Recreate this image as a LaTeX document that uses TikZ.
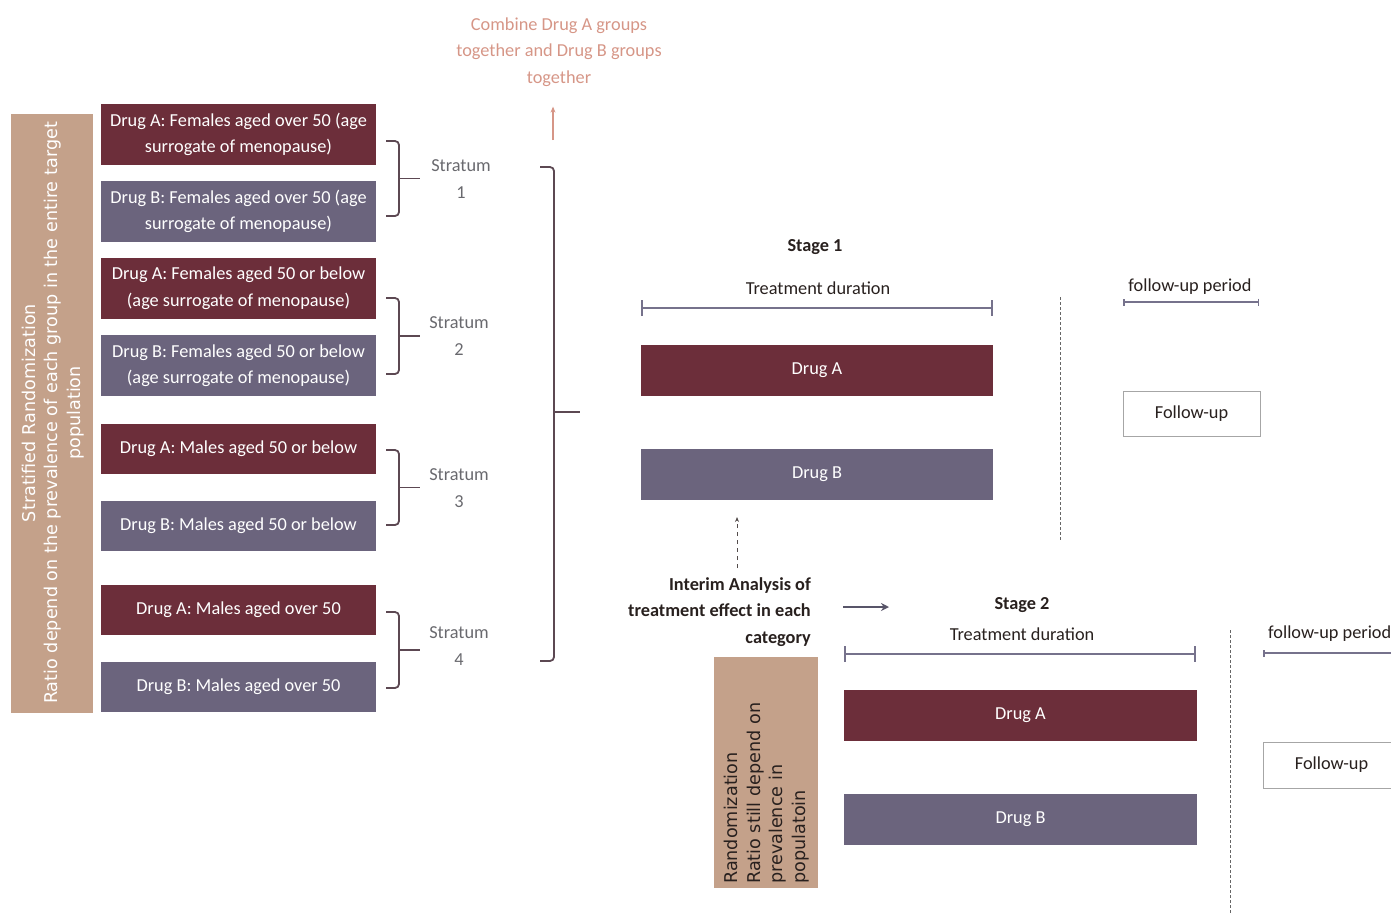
\documentclass[tikz,border=0pt]{standalone}
\usepackage{fontspec}
\setmainfont{Carlito}
\newfontfamily\vertfont{DejaVu Sans}
\usetikzlibrary{arrows.meta}
\definecolor{drugared}{RGB}{108,46,58}
\definecolor{drugbgrey}{RGB}{107,100,125}
\definecolor{tanbar}{RGB}{196,161,138}
\definecolor{salmon}{RGB}{214,150,135}
\definecolor{barline}{RGB}{118,114,140}
\definecolor{bracecol}{RGB}{92,72,82}
\definecolor{stratgrey}{RGB}{105,105,110}
\definecolor{darktext}{RGB}{40,32,30}
\def\stratbrace(#1:#2){\draw[bracket] (386,#1) -- (399,#1) -- (399,#2) -- (386,#2); \draw[bracket] (399,{(#1+#2)/2}) -- (420,{(#1+#2)/2});}
\tikzset{
	txt/.style={font=\fontsize{18.3}{26.5}\selectfont, align=center, inner sep=0pt, text=darktext},
	vtxt/.style={font={\vertfont\fontsize{17.6}{22.5}\selectfont}, align=center, inner sep=0pt},
	drugbox/.style={txt, text=white, minimum width=275pt, minimum height=50pt},
	drugA/.style={drugbox, fill=drugared},
	drugB/.style={drugbox, fill=drugbgrey},
	fubox/.style={txt, draw=gray!70, line width=1pt, fill=white, minimum width=137pt, minimum height=45pt},
	strat/.style={txt, text=stratgrey},
	bracket/.style={bracecol, line width=1.8pt, rounded corners=4pt},
	durbar/.style={barline, line width=2pt, {Bar[width=16pt]}-{Bar[width=16pt]}},
	fubar/.style={barline, line width=1.5pt, {Bar[width=7pt]}-{Bar[width=7pt]}},
	divider/.style={gray!80!black, line width=1pt, dash pattern=on 2.5pt off 2.5pt}
}
\begin{document}
\begin{tikzpicture}[x=1pt,y=-1pt]
			%%%%% START %%%%%
			\useasboundingbox (0,0) rectangle (1391,913);
			\clip (0,0) rectangle (1391,913);
			
			\fill[tanbar] (11,114) rectangle (93,713);
			\node[vtxt, text=white, rotate=90] (stratrand) at (53,413) {Stratified Randomization\\Ratio depend on the prevalence of each group in the entire target\\population};
			
			\node[drugA, minimum height=61pt] (a1) at (238.5,134.5) {Drug A: Females aged over 50 (age\\surrogate of menopause)};
			\node[drugB, minimum height=61pt] (b1) at (238.5,211.5) {Drug B: Females aged over 50 (age\\surrogate of menopause)};
			\node[drugA, minimum height=61pt] (a2) at (238.5,288) {Drug A: Females aged 50 or below\\(age surrogate of menopause)};
			\node[drugB, minimum height=61pt] (b2) at (238.5,365.5) {Drug B: Females aged 50 or below\\(age surrogate of menopause)};
			\node[drugA] (a3) at (238.5,449) {Drug A: Males aged 50 or below};
			\node[drugB] (b3) at (238.5,526) {Drug B: Males aged 50 or below};
			\node[drugA] (a4) at (238.5,610) {Drug A: Males aged over 50};
			\node[drugB] (b4) at (238.5,687) {Drug B: Males aged over 50};
			
			\stratbrace(141:216)
			\stratbrace(298:374)
			\stratbrace(450:525)
			\stratbrace(612:688)
			\node[strat] (s1) at (461,179) {Stratum\\1};
			\node[strat] (s2) at (459,336) {Stratum\\2};
			\node[strat] (s3) at (459,488) {Stratum\\3};
			\node[strat] (s4) at (459,646) {Stratum\\4};
			
			\draw[bracket] (540,167) -- (554,167) -- (554,661) -- (540,661);
			\draw[bracket] (554,412) -- (580,412);
			
			\node[txt, text=salmon] (combine) at (559,52) {Combine Drug A groups\\together and Drug B groups\\together};
			\coordinate (cmbfoot) at (553,140);
			\draw[salmon, line width=1.3pt, -{Stealth[length=6pt,width=5pt]}, shorten >=20pt] (cmbfoot) -- (cmbfoot |- combine.south);
			
			% stage 1
			\node[txt] (st1) at (815,247) {\bfseries Stage 1};
			\node[txt] (td1) at (818,288) {Treatment duration};
			\draw[durbar] (641,308) -- (993,308);
			\node[drugA, minimum width=352pt, minimum height=51pt] (a1s1) at (817,370.5) {Drug A};
			\node[drugB, minimum width=352pt, minimum height=51pt] (b1s1) at (817,474.5) {Drug B};
			\draw[divider] (1060,297) -- (1060,540);
			\node[txt] (fp1) at (1190,287) {follow-up period};
			\draw[fubar] (1123,302) -- (1259,302);
			\node[fubox] (fu1) at (1191.5,413.5) {Follow-up};
			
			\node[txt, align=right, anchor=east] (interim) at (811,612) {\bfseries Interim Analysis of\\\bfseries treatment effect in each\\\bfseries category};
			\coordinate (dn1) at (737,568);
			\coordinate (up1) at (737,517);
			\draw[darktext!80, line width=1pt, dash pattern=on 4pt off 4pt, -{Stealth[length=5pt,width=4pt]}] (dn1) -- (up1);
			\coordinate (ar2) at (889,607);
			\draw[barline!75!black, line width=2.6pt, -{Stealth[length=8pt,width=8pt]}, shorten <=32pt] (interim.east |- ar2) -- (ar2);
			
			% stage 2
			\node[txt] (st2) at (1022,605) {\bfseries Stage 2};
			\node[txt] (td2) at (1022,634) {Treatment duration};
			\draw[durbar] (844,654) -- (1196,654);
			\node[drugA, minimum width=353pt, minimum height=51pt] (a1s2) at (1020.5,715.5) {Drug A};
			\node[drugB, minimum width=353pt, minimum height=51pt] (b1s2) at (1020.5,819.5) {Drug B};
			\draw[divider] (1230,630) -- (1230,913);
			\node[txt, anchor=west] (fp2) at (1268,634) {follow-up period};
			\draw[fubar] (1263,653) -- (1420,653);
			\node[fubox, minimum height=46pt] (fu2) at (1331.5,765) {Follow-up};
			
			\fill[tanbar] (714,657) rectangle (818,888);
			\node[vtxt, text=darktext, rotate=90, align=left, anchor=north west] (still) at (724,884) {Randomization\\Ratio still depend on\\prevalence in\\populatoin};
			%%%%% END %%%%%
\end{tikzpicture}
\end{document}
